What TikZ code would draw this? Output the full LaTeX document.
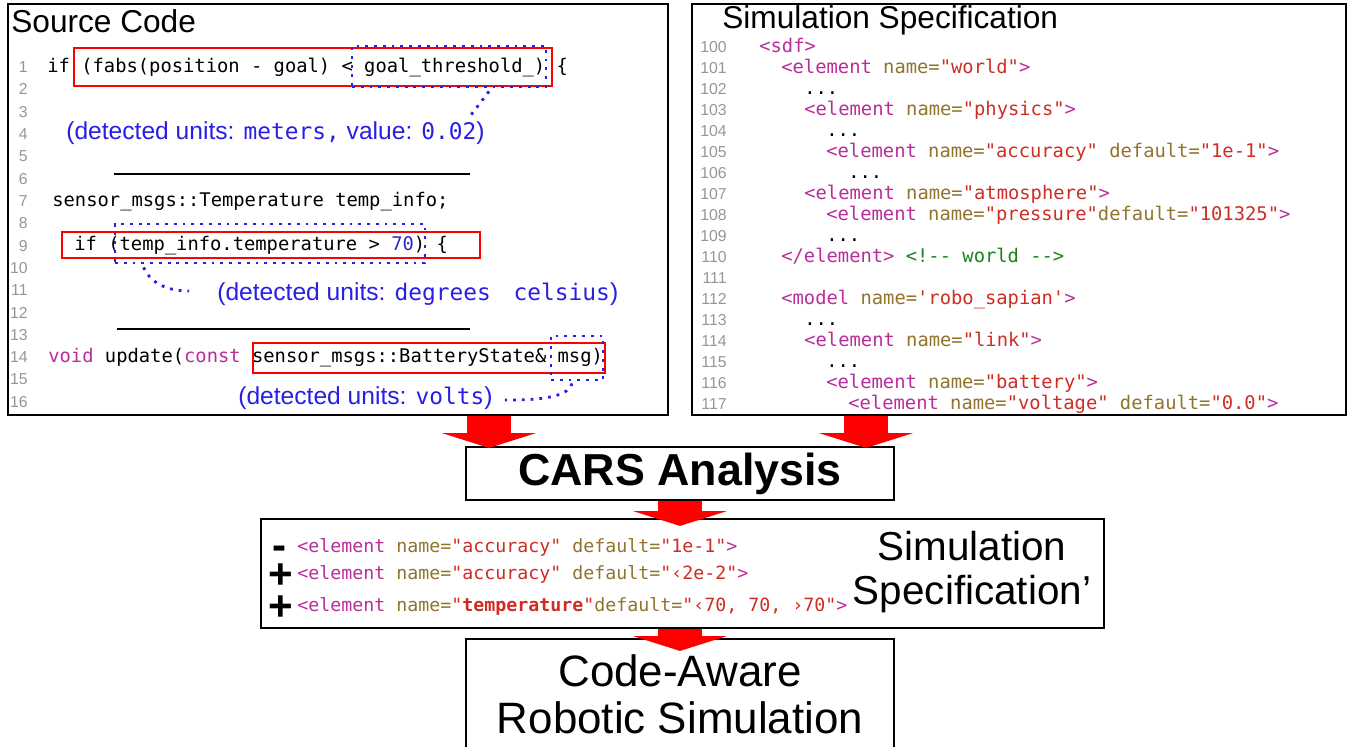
\documentclass[tikz,border=0pt]{standalone}
\usepackage{fontspec}
\setmainfont{Liberation Sans}
\setmonofont{DejaVu Sans Mono}
\usepackage{tikz}
\usetikzlibrary{arrows.meta,calc,fit,positioning}

\definecolor{tagmag}{RGB}{185,45,155}
\definecolor{attrol}{RGB}{145,115,45}
\definecolor{strred}{RGB}{205,45,35}
\definecolor{cmtgrn}{RGB}{25,130,25}
\definecolor{unitblue}{RGB}{40,30,230}
\definecolor{numblue}{RGB}{40,40,200}
\definecolor{lngray}{RGB}{150,150,150}

\newcommand{\xtag}[1]{\textcolor{tagmag}{#1}}
\newcommand{\xattr}[1]{\textcolor{attrol}{#1}}
\newcommand{\xstr}[1]{\textcolor{strred}{#1}}
\newcommand{\xcmt}[1]{\textcolor{cmtgrn}{#1}}
\newcommand{\xunit}[1]{{\ttfamily\fontsize{13}{15}\selectfont #1}}

\tikzset{%
	panel/.style     = {draw, line width=1.4pt, inner sep=0pt},
	block/.style     = {draw, rectangle, line width=1.2pt, inner sep=0pt},
	paneltitle/.style= {anchor=west, inner sep=0pt, font=\fontsize{18}{20}\selectfont},
	codeline/.style  = {anchor=west, inner sep=0pt, text height=8pt, text depth=2pt, font=\ttfamily\fontsize{10.7}{12}\selectfont},
	diffline/.style  = {codeline, font=\ttfamily\fontsize{10.4}{12}\selectfont},
	diffsign/.style  = {inner sep=0pt, font=\bfseries\fontsize{24}{26}\selectfont},
	lineno/.style    = {anchor=east, inner sep=0pt, text=lngray, font=\fontsize{9}{11}\selectfont},
	hitbox/.style    = {draw=red, line width=1.3pt, inner sep=0pt}, % matched expression
	unitbox/.style   = {draw=unitblue, line width=1.6pt, dash pattern=on 1.6pt off 3.4pt, inner sep=0pt},
	unitlead/.style  = {draw=unitblue, line width=1.6pt, dash pattern=on 1.6pt off 3.4pt},
	unitlabel/.style = {anchor=west, inner sep=0pt, text=unitblue, font=\fontsize{14}{16}\selectfont},
	seprule/.style   = {line width=1.7pt},
	bigarrow/.style  = {red, line width=25pt, -{Triangle[width=53.5pt,length=8.5pt]}},
}

\begin{document}
\begin{tikzpicture}[x=0.02cm,y=-0.02cm]
	\useasboundingbox (0,0) rectangle (1353,747);

	% source code
	\node [panel, fit={(8,4) (668,415)}] (code) {};
	\node [paneltitle] (codetitle) at (11,21) {Source Code};
	\foreach \n in {1,...,16}
		\node [lineno] (cl\n) at (28,{67+(\n-1)*22.33}) {\n};
	\node [codeline] (c1) at (47,67) {if (fabs(position - goal) < goal\_threshold\_) \{};
	\node [codeline] (c7) at (52,201) {sensor\_msgs::Temperature temp\_info;};
	\node [codeline] (c9) at (74,245) {if (temp\_info.temperature > \textcolor{numblue}{70}) \{};
	\node [codeline] (c14) at (48,357) {\xtag{void} update(\xtag{const} sensor\_msgs::BatteryState\& msg)};
	\draw [seprule] (114,174) -- (470,174);
	\draw [seprule] (117,329) -- (470,329);

	\node [hitbox, fit={(74,48) (552,86)}] (h1) {};
	\node [unitbox, fit={(352,46) (546,87)}] (u1) {};
	\node [hitbox, fit={(62,232) (480,258)}] (h2) {};
	\node [unitbox, fit={(115,224) (425,263)}] (u2) {};
	\node [hitbox, fit={(253,343) (605,373)}] (h3) {};
	\node [unitbox, fit={(551,336) (603,380)}] (u3) {};

	\node [unitlabel] (lab1) at (66,133) {(detected units: \xunit{meters,} value: \xunit{0.02})};
	\node [unitlabel] (lab2) at (217,294) {(detected units: \xunit{degrees\hspace{1em}celsius})};
	\node [unitlabel] (lab3) at (238,398) {(detected units: \xunit{volts})};
	\draw [unitlead] ($(u1.south)+(40,3)$) -- ($(lab1.north east)+(-15,-5)$);
	\draw [unitlead] ($(u2.south west)+(30,3)$) .. controls +(8,18) and +(-18,0) .. ($(lab2.west)+(-28,-3)$);
	\draw [unitlead] ($(u3.south)+(-5,2)$) .. controls +(-4,16) and +(25,0) .. ($(lab3.east)+(12,2)$);

	% simulation specification
	\node [panel, fit={(692,4) (1346,415)}] (sdf) {};
	\node [paneltitle] (sdftitle) at (722,20) {Simulation Specification};
	\foreach \n in {100,...,117}
		\node [lineno] (sl\n) at (727,{47+(\n-100)*21}) {\n};
	\node [codeline] (s100) at (759,47) {\xtag{<sdf>}};
	\node [codeline] (s101) at (781,68) {\xtag{<element} \xattr{name=}\xstr{"world"}\xtag{>}};
	\node [codeline] (s102) at (804,89) {...};
	\node [codeline] (s103) at (804,110) {\xtag{<element} \xattr{name=}\xstr{"physics"}\xtag{>}};
	\node [codeline] (s104) at (826,131) {...};
	\node [codeline] (s105) at (826,152) {\xtag{<element} \xattr{name=}\xstr{"accuracy"} \xattr{default=}\xstr{"1e-1"}\xtag{>}};
	\node [codeline] (s106) at (848,173) {...};
	\node [codeline] (s107) at (804,194) {\xtag{<element} \xattr{name=}\xstr{"atmosphere"}\xtag{>}};
	\node [codeline] (s108) at (826,215) {\xtag{<element} \xattr{name=}\xstr{"pressure"}\xattr{default=}\xstr{"101325"}\xtag{>}};
	\node [codeline] (s109) at (826,236) {...};
	\node [codeline] (s110) at (781,257) {\xtag{</element>} \xcmt{<!-- world -->}};
	\node [codeline] (s112) at (781,299) {\xtag{<model} \xattr{name=}\xstr{'robo\_sapian'}\xtag{>}};
	\node [codeline] (s113) at (804,320) {...};
	\node [codeline] (s114) at (804,341) {\xtag{<element} \xattr{name=}\xstr{"link"}\xtag{>}};
	\node [codeline] (s115) at (826,362) {...};
	\node [codeline] (s116) at (826,383) {\xtag{<element} \xattr{name=}\xstr{"battery"}\xtag{>}};
	\node [codeline] (s117) at (848,404) {\xtag{<element} \xattr{name=}\xstr{"voltage"} \xattr{default=}\xstr{"0.0"}\xtag{>}};

	% analysis and output
	\node [block, minimum width=8.56cm, minimum height=1.06cm, font=\bfseries\fontsize{25.5}{28}\selectfont] (cars) at (680,473.5) {CARS Analysis};

	\node [block, fit={(261,519) (1104,628)}] (sdfnew) {};
	\node [diffsign] (d1sign) at (280,553) {-};
	\node [diffsign] (d2sign) at (281,576) {+};
	\node [diffsign] (d3sign) at (281,608) {+};
	\node [diffline] (d1) at (297,547) {\xtag{<element} \xattr{name=}\xstr{"accuracy"} \xattr{default=}\xstr{"1e-1"}\xtag{>}};
	\node [diffline] (d2) at (297,574) {\xtag{<element} \xattr{name=}\xstr{"accuracy"} \xattr{default=}\xstr{"‹2e-2"}\xtag{>}};
	\node [diffline] (d3) at (297,606) {\xtag{<element} \xattr{name=}\xstr{"\textbf{temperature}"}\xattr{default=}\xstr{"‹70, 70, ›70"}\xtag{>}};
	\node [align=center, inner sep=0pt, font=\fontsize{23}{25}\selectfont] (sdfnewtitle) at (972,572) {Simulation\\Specification’};

	\node [block, fit={(466,639) (894,780)}] (sim) {};
	\node [align=center, inner sep=0pt, font=\fontsize{25}{26.7}\selectfont] (simtext) at (680,694) {Code-Aware\\Robotic Simulation};

	\coordinate (inL) at ($(cars.north)+(-191,2)$);
	\coordinate (inR) at ($(cars.north)+(186,2)$);
	\draw [bigarrow] (code.south -| inL) -- (inL);
	\draw [bigarrow] (sdf.south -| inR) -- (inR);
	\draw [bigarrow] (cars.south) -- ($(sdfnew.north -| cars.south)+(0,8)$);
	\draw [bigarrow] (sdfnew.south -| sim.north) -- ($(sim.north)+(0,13)$);
\end{tikzpicture}
\end{document}
